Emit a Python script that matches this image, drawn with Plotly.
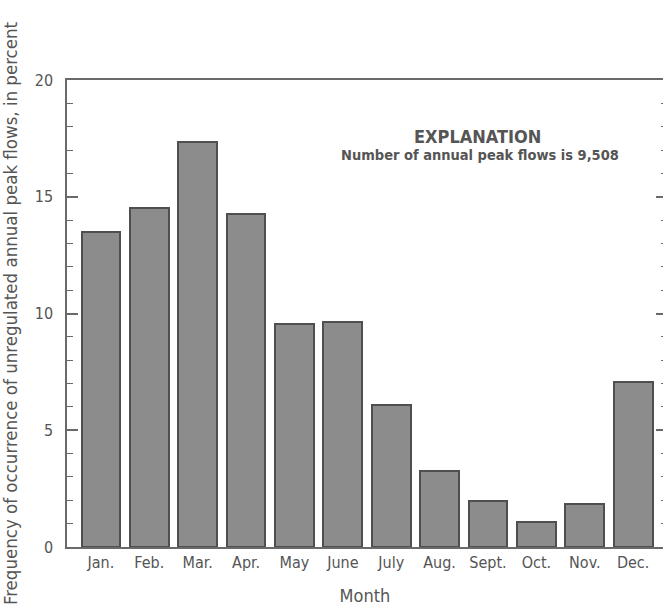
import plotly.graph_objects as go

# Monthly frequency of annual peak flows (percent of all peaks)
months = ["Jan.", "Feb.", "Mar.", "Apr.", "May", "June", "July",
          "Aug.", "Sept.", "Oct.", "Nov.", "Dec."]
frequency_pct = [13.5, 14.5, 17.35, 14.25, 9.55, 9.65, 6.1,
                 3.25, 1.95, 1.05, 1.85, 7.05]
peak_count_label = "Number of annual peak flows is 9,508"

FONT = "DejaVu Sans Condensed, Roboto, sans-serif"
TEXT = "#555555"
LINE = "#6a6a6a"

fig = go.Figure()
fig.add_trace(go.Bar(
    x=list(range(len(months))),
    y=frequency_pct,
    width=0.8,
    marker=dict(color="#8c8c8c", line=dict(color="#4f4f4f", width=2)),
    showlegend=False,
    hoverinfo="skip",
))
# empty trace so the right-hand tick axis is rendered
fig.add_trace(go.Scatter(x=[], y=[], yaxis="y2", showlegend=False))

fig.update_layout(
    width=663, height=611,
    margin=dict(l=67, r=0, t=80, b=64),
    plot_bgcolor="white", paper_bgcolor="white",
    font=dict(family=FONT, size=16, color=TEXT),
    bargap=0,
    xaxis=dict(
        range=[-0.7, 11.617],
        tickmode="array",
        tickvals=list(range(len(months))),
        ticktext=months,
        ticks="",
        showgrid=False, zeroline=False,
        showline=True, linecolor=LINE, linewidth=1.5, mirror=True,
        tickfont=dict(size=16, color=TEXT),
        title=dict(text="Month", font=dict(size=18, color=TEXT), standoff=18),
    ),
    yaxis=dict(
        range=[0, 20],
        tick0=0, dtick=5,
        ticks="inside", ticklen=11, tickwidth=1.5, tickcolor=LINE,
        minor=dict(dtick=1, ticks="inside", ticklen=6, tickwidth=1.2, tickcolor=LINE),
        showgrid=False, zeroline=False,
        showline=True, linecolor=LINE, linewidth=1.5,
        ticklabelstandoff=9,
        tickfont=dict(size=16, color=TEXT),
        title=dict(
            text="Frequency of occurrence of unregulated annual peak flows, in percent",
            font=dict(size=18.5, color=TEXT), standoff=12),
    ),
    yaxis2=dict(
        range=[0, 20], overlaying="y", side="right",
        tick0=0, dtick=5,
        ticks="inside", ticklen=7, tickwidth=1.5, tickcolor=LINE,
        minor=dict(dtick=1, ticks="inside", ticklen=2, tickwidth=1.2, tickcolor=LINE),
        showticklabels=False, showgrid=False, zeroline=False, showline=False,
    ),
    annotations=[
        dict(text="<b>EXPLANATION</b>", xref="paper", yref="paper",
             x=0.689, y=0.880, xanchor="center", yanchor="middle",
             showarrow=False, font=dict(size=18, color=TEXT)),
        dict(text="<b>" + peak_count_label + "</b>", xref="paper", yref="paper",
             x=0.693, y=0.839, xanchor="center", yanchor="middle",
             showarrow=False, font=dict(size=14.5, color=TEXT)),
    ],
)

fig.write_html("out.html")
